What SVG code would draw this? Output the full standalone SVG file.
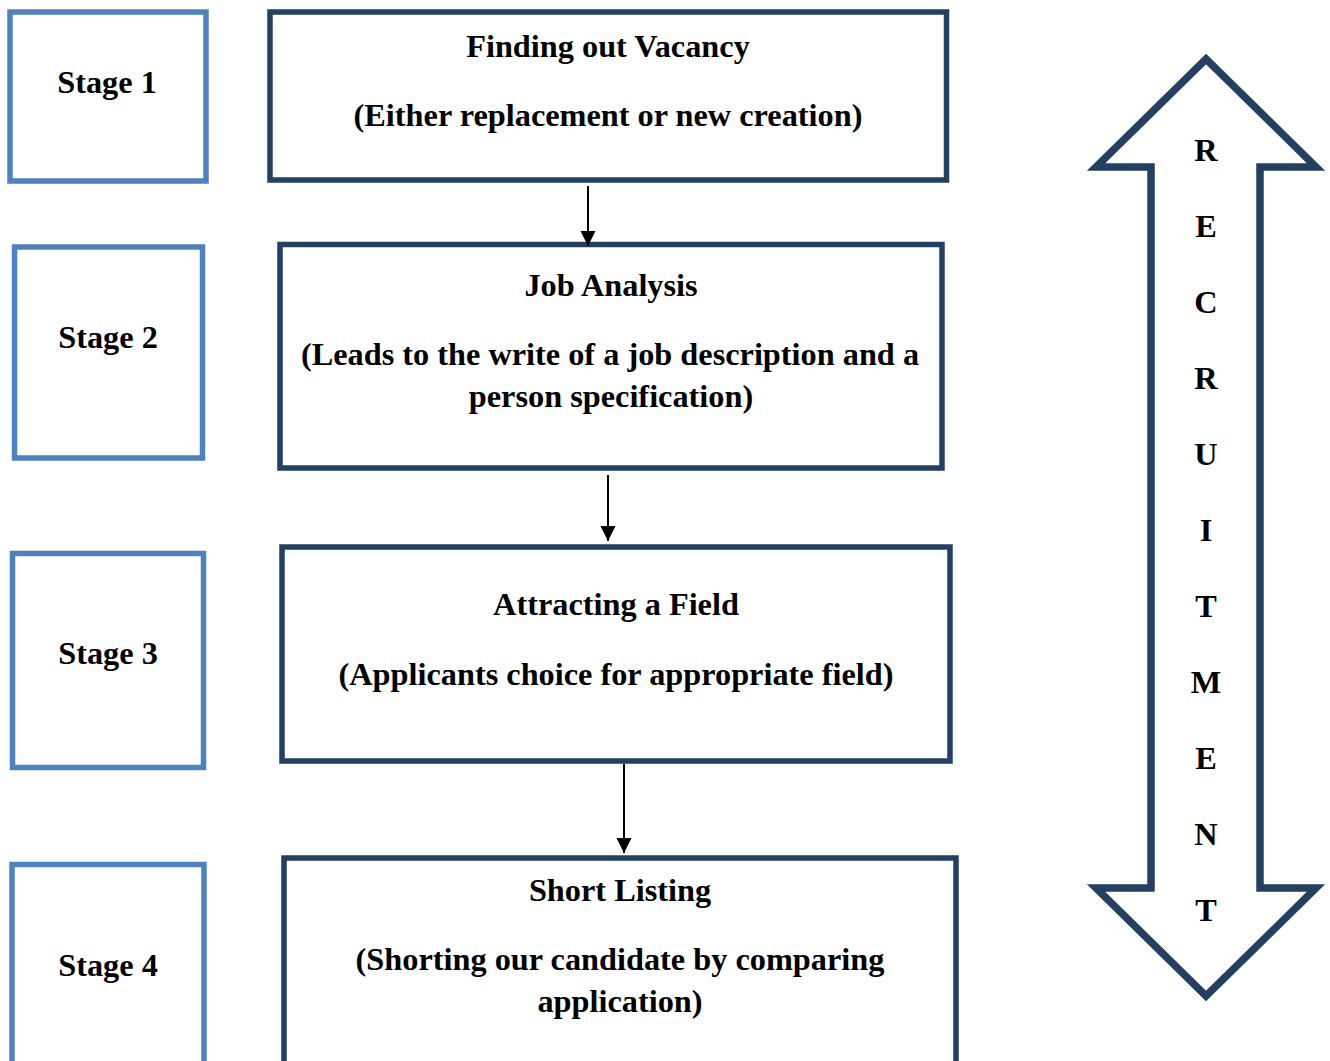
<svg xmlns="http://www.w3.org/2000/svg" width="1330" height="1061" viewBox="0 0 1330 1061">
<defs>
<style>
.stage{fill:#fff;stroke:#4F81BD;stroke-width:5.5}
.main{fill:#fff;stroke:#243F60;stroke-width:5.5}
.t{font-family:"Liberation Serif","Times New Roman",serif;font-weight:bold;font-size:32.3px;fill:#000;text-anchor:middle}
.conn{stroke:#000;stroke-width:2;fill:none}
.big{fill:#fff;stroke:#243F60;stroke-width:7.5;stroke-linejoin:miter;stroke-miterlimit:10}
</style>
<marker id="ah" viewBox="0 0 15 16" refX="15" refY="7.5" markerWidth="15" markerHeight="16" markerUnits="userSpaceOnUse" orient="auto">
<path d="M0,0 L15,7.5 L0,15 z" fill="#000"/>
</marker>
</defs>
<rect width="1330" height="1061" fill="#fff"/>
<g id="stage1"><rect class="stage" x="10" y="12" width="196" height="169"/><text class="t" x="107" y="93">Stage 1</text></g>
<g id="stage2"><rect class="stage" x="14.5" y="247" width="188" height="211"/><text class="t" x="108" y="348">Stage 2</text></g>
<g id="stage3"><rect class="stage" x="12.5" y="553.5" width="191" height="214"/><text class="t" x="108" y="664">Stage 3</text></g>
<g id="stage4"><rect class="stage" x="12" y="864.5" width="192" height="230"/><text class="t" x="108" y="976">Stage 4</text></g>
<g id="box1"><rect class="main" x="270" y="12" width="676.5" height="168"/>
<text class="t" x="608" y="57">Finding out Vacancy</text>
<text class="t" x="608" y="126">(Either replacement or new creation)</text></g>
<g id="box2"><rect class="main" x="280" y="244.5" width="662" height="223.5"/>
<text class="t" x="611" y="296">Job Analysis</text>
<text class="t" x="610" y="365">(Leads to the write of a job description and a</text>
<text class="t" x="611" y="407">person specification)</text></g>
<g id="box3"><rect class="main" x="282" y="547" width="668" height="214"/>
<text class="t" x="616" y="615">Attracting a Field</text>
<text class="t" x="616" y="685">(Applicants choice for appropriate field)</text></g>
<g id="box4"><rect class="main" x="284" y="858" width="672" height="240"/>
<text class="t" x="620" y="901">Short Listing</text>
<text class="t" x="620" y="970">(Shorting our candidate by comparing</text>
<text class="t" x="620" y="1012">application)</text></g>
<g id="recruitment">
<polygon class="big" points="1206,59 1316,167 1260,167 1260,888 1316,888 1206,996 1096,888 1151,888 1151,167 1096,167"/>
<text class="t" x="1206" y="161">R</text>
<text class="t" x="1206" y="237">E</text>
<text class="t" x="1206" y="313">C</text>
<text class="t" x="1206" y="389">R</text>
<text class="t" x="1206" y="465">U</text>
<text class="t" x="1206" y="541">I</text>
<text class="t" x="1206" y="617">T</text>
<text class="t" x="1206" y="693">M</text>
<text class="t" x="1206" y="769">E</text>
<text class="t" x="1206" y="845">N</text>
<text class="t" x="1206" y="921">T</text>
</g>
<g id="connectors">
<line class="conn" x1="588" y1="186" x2="588" y2="246" marker-end="url(#ah)"/>
<line class="conn" x1="608" y1="475" x2="608" y2="541" marker-end="url(#ah)"/>
<line class="conn" x1="624" y1="764" x2="624" y2="853" marker-end="url(#ah)"/>
</g>
</svg>
